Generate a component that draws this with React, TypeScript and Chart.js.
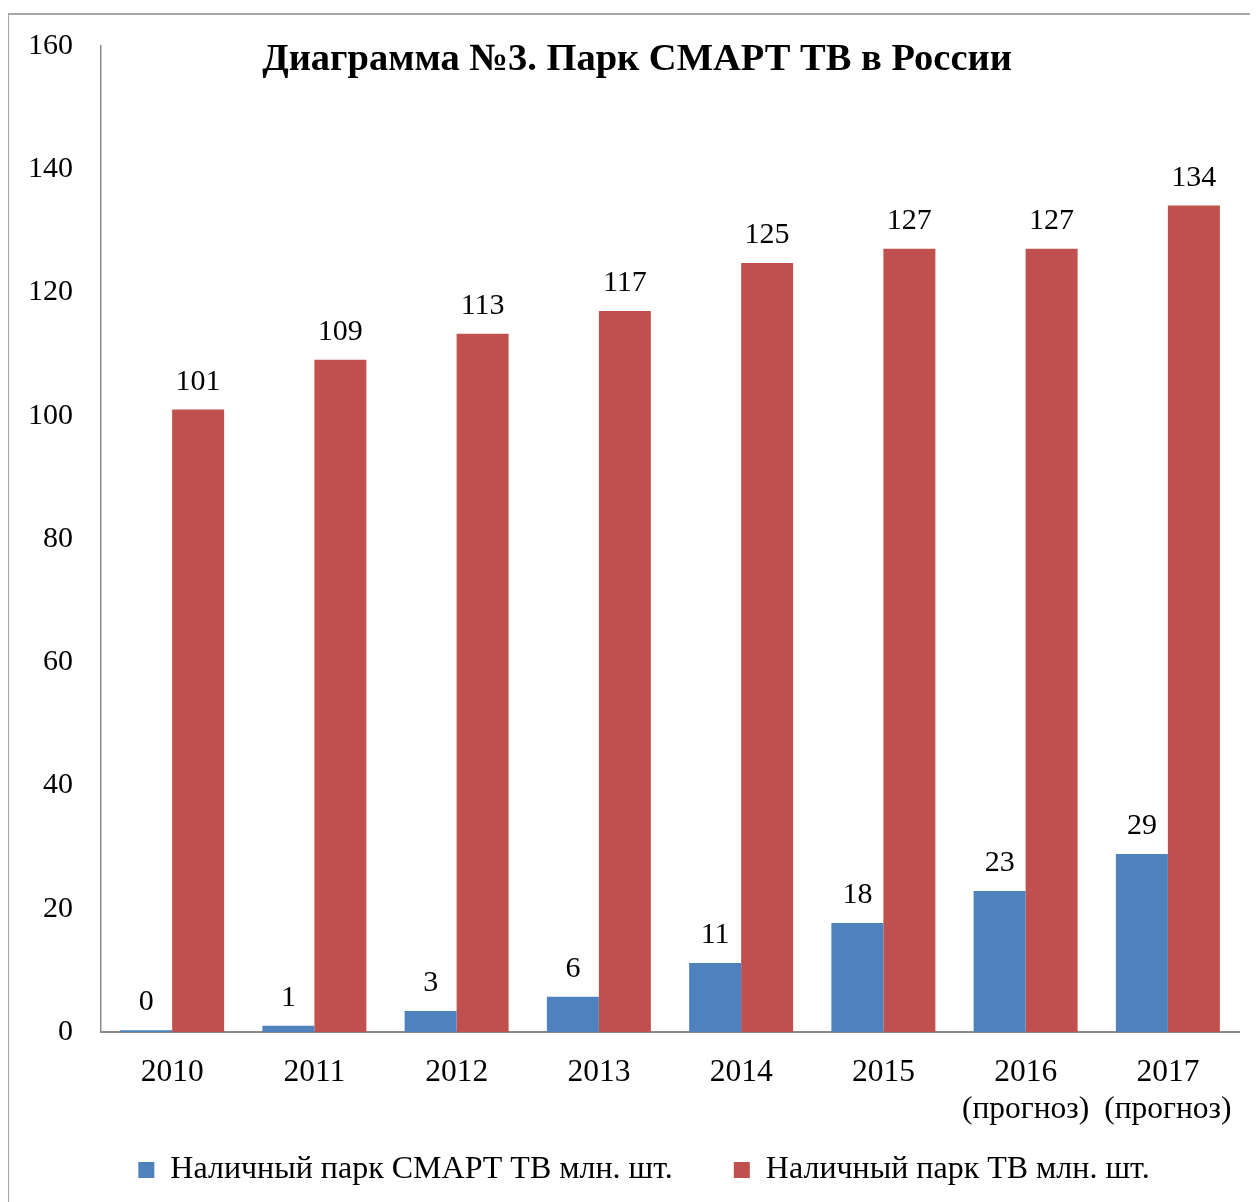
import React, { useEffect, useRef } from 'react';
import { Chart, registerables } from 'chart.js';

Chart.register(...registerables);

const chartTitle = 'Диаграмма №3. Парк СМАРТ ТВ в России';
const categories: string[][] = [
  ['2010'], ['2011'], ['2012'], ['2013'], ['2014'], ['2015'],
  ['2016', '(прогноз)'], ['2017', '(прогноз)'],
];
const seriesNames = ['Наличный парк СМАРТ ТВ млн. шт.', 'Наличный парк ТВ млн. шт.'];
const smartTvValues = [0.3, 1.0, 3.4, 5.7, 11.2, 17.7, 22.9, 28.9];
const tvValues = [101.0, 109.1, 113.3, 117.0, 124.8, 127.1, 127.1, 134.1];
const yTicks = [0, 20, 40, 60, 80, 100, 120, 140, 160];

const FONT = '"Liberation Serif", "Times New Roman", serif';

const titlePlugin = {
  id: 'customTitle',
  afterDraw(chart: any) {
    const ctx = chart.ctx;
    ctx.save();
    ctx.font = `bold 38.5px ${FONT}`;
    ctx.fillStyle = '#000';
    ctx.textAlign = 'center';
    ctx.textBaseline = 'alphabetic';
    ctx.fillText(chartTitle, 628, 70);
    ctx.restore();
  },
};

const legendPlacePlugin = {
  id: 'legendPlace',
  afterLayout(chart: any) {
    const lg = chart.legend;
    if (!lg) return;
    const h = lg.height;
    lg.top = 1093;
    lg.bottom = 1093 + h;
    lg.left += 20;
    lg.right += 20;
  },
};

const dataLabelPlugin = {
  id: 'barValueLabels',
  afterDatasetsDraw(chart: any) {
    const ctx = chart.ctx;
    ctx.save();
    ctx.font = `30px ${FONT}`;
    ctx.fillStyle = '#000';
    ctx.textAlign = 'center';
    ctx.textBaseline = 'alphabetic';
    chart.data.datasets.forEach((ds: any, di: number) => {
      const meta = chart.getDatasetMeta(di);
      meta.data.forEach((bar: any, i: number) => {
        const v = ds.data[i];
        ctx.fillText(String(Math.round(v)), bar.x, bar.y - 20);
      });
    });
    ctx.restore();
  },
};

export default function App() {
  const ref = useRef<HTMLCanvasElement | null>(null);

  useEffect(() => {
    document.documentElement.style.overflow = 'hidden';
    document.body.style.overflow = 'hidden';
    const canvas = ref.current;
    if (!canvas) return;
    const chart = new Chart(canvas, {
      type: 'bar',
      data: {
        labels: categories,
        datasets: [
          {
            label: seriesNames[0],
            data: smartTvValues,
            backgroundColor: '#4F81BD',
            borderWidth: 0,
            categoryPercentage: 0.731,
            barPercentage: 1.0,
          },
          {
            label: seriesNames[1],
            data: tvValues,
            backgroundColor: '#C0504D',
            borderWidth: 0,
            categoryPercentage: 0.731,
            barPercentage: 1.0,
          },
        ],
      },
      options: {
        responsive: false,
        animation: false,
        devicePixelRatio: 1,
        layout: { padding: { left: 0, right: 19, top: 0, bottom: 0 } },
        plugins: {
          title: { display: false },
          tooltip: { enabled: false },
          legend: {
            display: true,
            position: 'bottom',
            labels: {
              boxWidth: 16,
              boxHeight: 16,
              padding: 61,
              color: '#000',
              font: { family: FONT, size: 32 },
            },
          },
        },
        scales: {
          x: {
            grid: { display: false, drawTicks: false },
            border: { display: true, color: '#8a8a8a', width: 2 },
            ticks: {
              color: '#000',
              padding: 22,
              maxRotation: 0,
              autoSkip: false,
              font: { family: FONT, size: 31.5, lineHeight: 1.17 },
            },
            afterFit(scale: any) {
              scale.height = 120;
            },
          },
          y: {
            min: 0,
            max: 160,
            grid: { display: false, drawTicks: false },
            border: { display: true, color: '#8a8a8a', width: 1.5 },
            afterBuildTicks(scale: any) {
              scale.ticks = yTicks.map((v) => ({ value: v }));
            },
            ticks: {
              color: '#000',
              padding: 28,
              font: { family: FONT, size: 30 },
            },
            afterFit(scale: any) {
              scale.width = 92;
            },
          },
        },
      },
      plugins: [dataLabelPlugin, titlePlugin, legendPlacePlugin],
    });
    return () => chart.destroy();
  }, []);

  return (
    <div
      style={{
        position: 'relative',
        top: 5,
        width: 1250,
        height: 1242,
        borderTop: '2px solid #a6a6a6',
        borderLeft: '1px solid #a6a6a6',
        background: '#fff',
      }}
    >
      <canvas
        ref={ref}
        width={1249}
        height={1255}
        style={{ display: 'block', position: 'absolute', left: 0, top: -15 }}
      />
    </div>
  );
}
